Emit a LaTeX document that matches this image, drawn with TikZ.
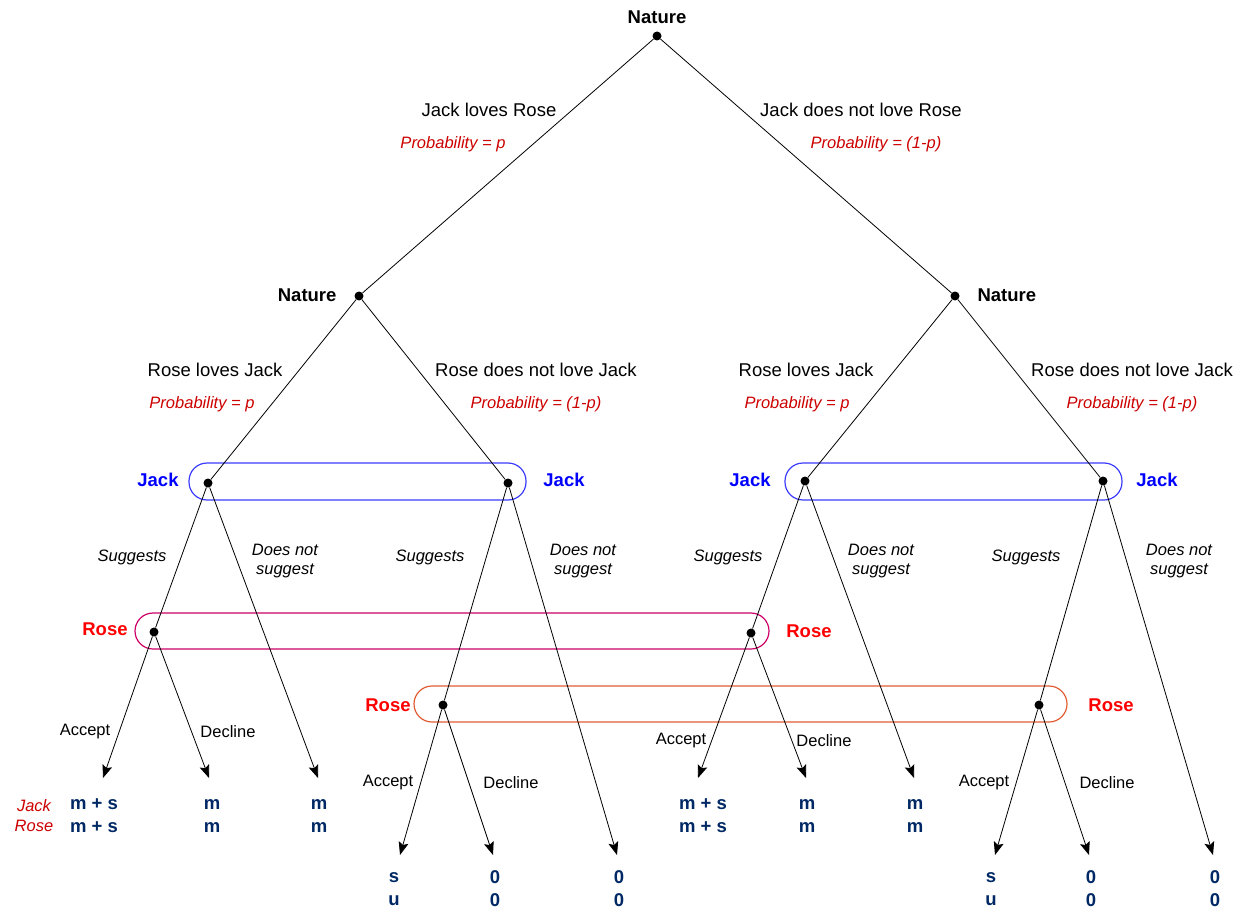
\documentclass[tikz,border=0pt]{standalone}
\usepackage{fontspec}
\setmainfont{Liberation Sans}
\usetikzlibrary{arrows.meta, calc}

\definecolor{jackblue}{RGB}{0,0,255}
\definecolor{setblue}{RGB}{60,60,255}
\definecolor{rosered}{RGB}{255,0,0}
\definecolor{setmagenta}{RGB}{204,0,102}
\definecolor{setorange}{RGB}{226,92,52}
\definecolor{probred}{RGB}{204,0,0}
\definecolor{payblue}{RGB}{0,40,100}

\tikzset{
  dot/.style={circle, fill=black, inner sep=0pt, minimum size=9pt},
  move/.style={font=\fontsize{18.5}{22}\selectfont},
  prob/.style={font=\fontsize{16.5}{20}\selectfont\itshape, text=probred},
  choice/.style={font=\fontsize{16.5}{19.5}\selectfont\itshape, align=center},
  answer/.style={font=\fontsize{16.5}{20}\selectfont},
  player/.style={font=\fontsize{18.5}{22}\selectfont\bfseries},
  payoff/.style={font=\fontsize{18.5}{23}\selectfont\bfseries, text=payblue, align=center, inner sep=0.5pt},
  branch/.style={line width=0.8pt},
  leaf/.style={line width=0.8pt, -{Stealth[length=13pt,width=10pt,inset=2.5pt]}},
  infoset/.style={line width=1.2pt, rounded corners=18pt},
}

\begin{document}
\begin{tikzpicture}[x=1pt, y=-1pt]
\useasboundingbox (0,0) rectangle (1244,909);

% decision points
\node[dot] (root) at (657,36) {};
\node[dot] (natL) at (359,296) {};
\node[dot] (natR) at (955,296) {};
\node[dot] (J1) at (208,483) {};
\node[dot] (J2) at (508,483) {};
\node[dot] (J3) at (805,481) {};
\node[dot] (J4) at (1103,481) {};
\node[dot] (R1) at (154,632) {};
\node[dot] (R2) at (443,705) {};
\node[dot] (R3) at (751,633) {};
\node[dot] (R4) at (1039,705) {};

% arrow ends
\coordinate (a1) at (103,778);
\coordinate (d1) at (209,778);
\coordinate (n1) at (318,778);
\coordinate (a2) at (400,855);
\coordinate (d2) at (493,855);
\coordinate (n2) at (617,855);
\coordinate (a3) at (698,778);
\coordinate (d3) at (806,778);
\coordinate (n3) at (914,778);
\coordinate (a4) at (995,855);
\coordinate (d4) at (1089,855);
\coordinate (n4) at (1213,855);

% information sets
\draw[infoset, setblue] (189,463) rectangle (526,500);
\draw[infoset, setblue] (785,463) rectangle (1122,500);
\draw[infoset, setmagenta] (135,613) rectangle (769,649);
\draw[infoset, setorange] (414,686) rectangle (1067,722);

% branches
\draw[branch] (root) -- (natL);
\draw[branch] (root) -- (natR);
\draw[branch] (natL) -- (J1);
\draw[branch] (natL) -- (J2);
\draw[branch] (natR) -- (J3);
\draw[branch] (natR) -- (J4);
\draw[branch] (J1) -- (R1);
\draw[branch] (J2) -- (R2);
\draw[branch] (J3) -- (R3);
\draw[branch] (J4) -- (R4);
\foreach \from/\to in {R1/a1, R1/d1, J1/n1, R2/a2, R2/d2, J2/n2,
                       R3/a3, R3/d3, J3/n3, R4/a4, R4/d4, J4/n4}
  \draw[leaf] (\from) -- (\to);

% players
\node[player] (natT) at (657,17) {Nature};
\node[player, anchor=east] (natLl) at (340,295) {Nature};
\node[player, anchor=west] (natRl) at (974,295) {Nature};
\node[player, text=jackblue] (J1l) at (158,480) {Jack};
\node[player, text=jackblue] (J2l) at (564,480) {Jack};
\node[player, text=jackblue] (J3l) at (750,480) {Jack};
\node[player, text=jackblue] (J4l) at (1157,480) {Jack};
\node[player, text=rosered] (R1l) at (105,629) {Rose};
\node[player, text=rosered] (R3l) at (809,631) {Rose};
\node[player, text=rosered] (R2l) at (388,705) {Rose};
\node[player, text=rosered] (R4l) at (1111,705) {Rose};

% moves of nature
\node[move] (m1) at (489,110) {Jack loves Rose};
\node[prob] (p1) at (453,144) {Probability = p};
\node[move] (m2) at (861,110) {Jack does not love Rose};
\node[prob] (p2) at (876,144) {Probability = (1-p)};
\node[move] (m3) at (215,370) {Rose loves Jack};
\node[prob] (p3) at (202,404) {Probability = p};
\node[move] (m4) at (536,370) {Rose does not love Jack};
\node[prob] (p4) at (536,404) {Probability = (1-p)};
\node[move] (m5) at (806,370) {Rose loves Jack};
\node[prob] (p5) at (797,404) {Probability = p};
\node[move] (m6) at (1132,370) {Rose does not love Jack};
\node[prob] (p6) at (1132,404) {Probability = (1-p)};

% Jack's choices
\node[choice] (s1) at (132,557) {Suggests};
\node[choice] (s2) at (430,557) {Suggests};
\node[choice] (s3) at (728,557) {Suggests};
\node[choice] (s4) at (1026,557) {Suggests};
\node[choice] (x1) at (285,561) {Does not\\suggest};
\node[choice] (x2) at (583,561) {Does not\\suggest};
\node[choice] (x3) at (881,561) {Does not\\suggest};
\node[choice] (x4) at (1179,561) {Does not\\suggest};

% Rose's answers
\node[answer] (ac1) at (85,732) {Accept};
\node[answer] (de1) at (228,732) {Decline};
\node[answer] (ac2) at (388,783) {Accept};
\node[answer] (de2) at (511,783) {Decline};
\node[answer] (ac3) at (681,741) {Accept};
\node[answer] (de3) at (824,741) {Decline};
\node[answer] (ac4) at (984,783) {Accept};
\node[answer] (de4) at (1107,783) {Decline};

% payoffs
\node[prob, align=center] (who) at (34,816) {Jack\\Rose};
\node[payoff] (u1) at (94,816) {m + s\\m + s};
\node[payoff] (u2) at (212,816) {m\\m};
\node[payoff] (u3) at (319,816) {m\\m};
\node[payoff] (u4) at (394,889) {s\\u};
\node[payoff] (u5) at (495,889) {0\\0};
\node[payoff] (u6) at (619,889) {0\\0};
\node[payoff] (u7) at (703,816) {m + s\\m + s};
\node[payoff] (u8) at (807,816) {m\\m};
\node[payoff] (u9) at (915,816) {m\\m};
\node[payoff] (u10) at (991,889) {s\\u};
\node[payoff] (u11) at (1091,889) {0\\0};
\node[payoff] (u12) at (1215,889) {0\\0};
\end{tikzpicture}
\end{document}
